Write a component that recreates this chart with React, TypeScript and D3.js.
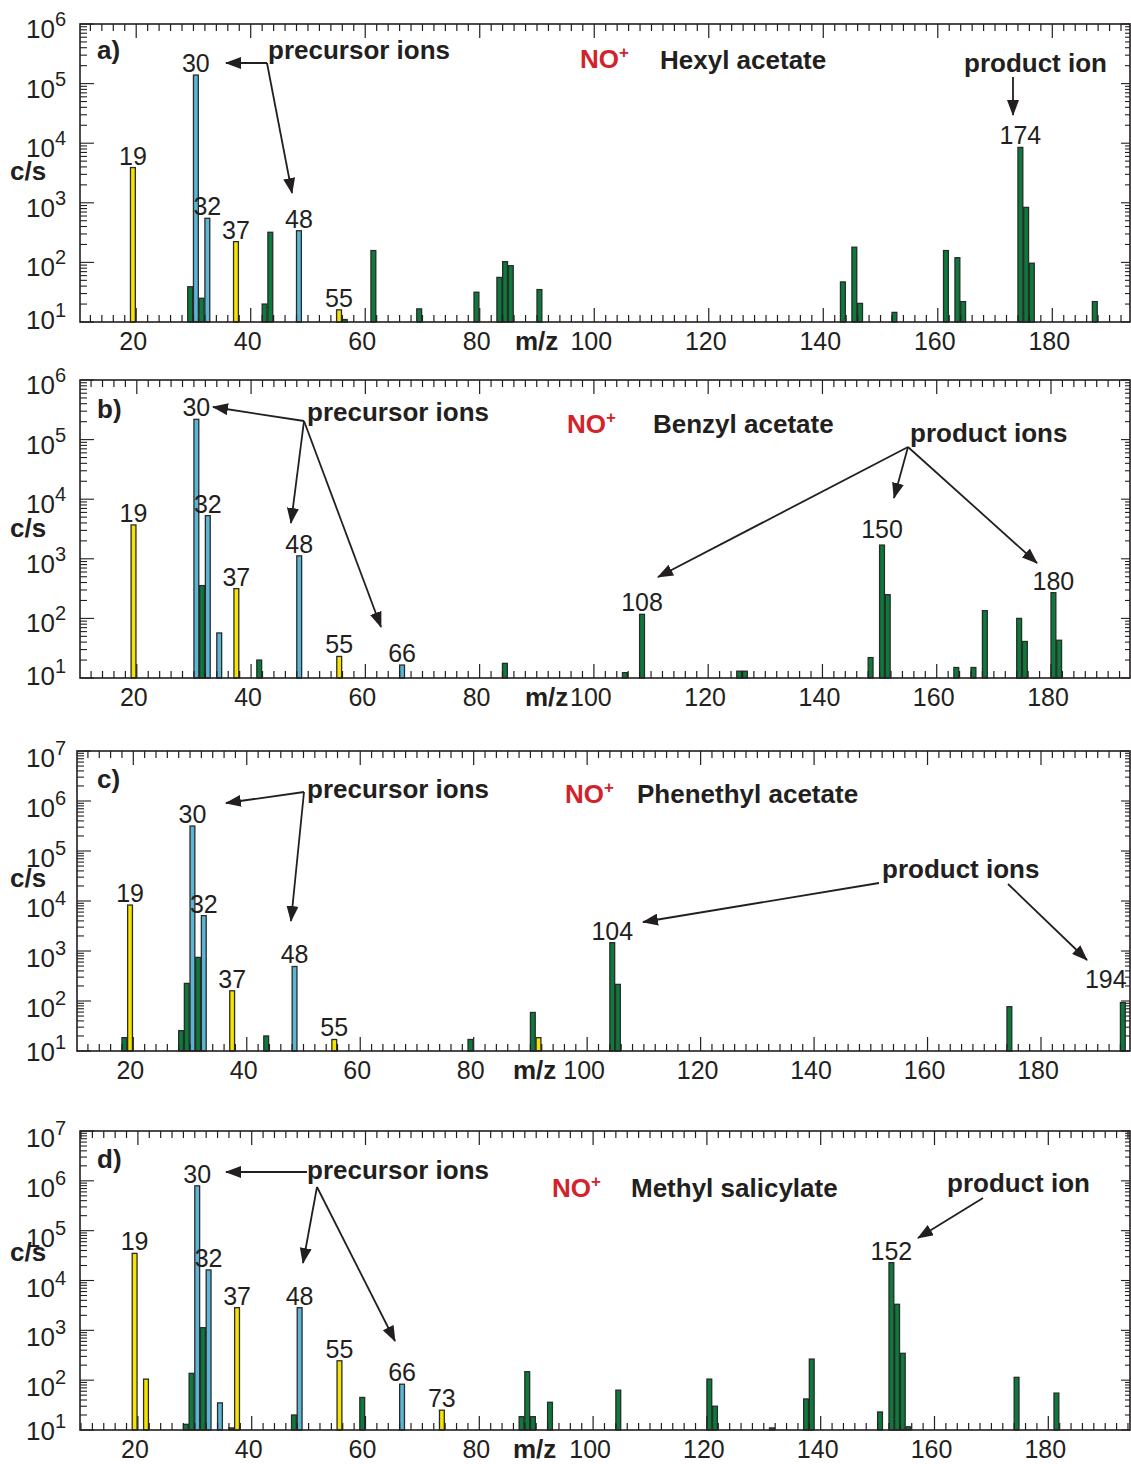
import React, { useRef, useEffect } from "react";
import { select, scaleLinear, scaleLog, range } from "d3";

const W = 1131;
const H = 1464;
const FONT = "'Liberation Sans', Arial, Helvetica, sans-serif";
const INK = "#231f20";
const RED = "#d2232a";
const YELLOW = "#f4e400";
const BLUE = "#5bb5d5";
const GREEN = "#0b7a3b";

// a) hexyl acetate  [m/z, c/s]
const hexylH3O = [[19, 3900], [37, 223], [55, 16]];
const hexylNO = [[30, 139000], [32, 550], [48, 340]];
const hexylProducts = [
  [29, 39], [31, 25], [42, 20], [43, 320], [56, 11], [61, 158], [69, 16.6], [79, 31.6],
  [83, 56], [84, 103], [85, 88], [90, 35], [143, 47], [145, 180], [146, 20.5], [152, 14.5],
  [161, 158], [163, 120], [164, 22], [174, 8500], [175, 838], [176, 97], [187, 22],
];
const hexylLabels = [19, 30, 32, 37, 48, 55, 174];

// b) benzyl acetate
const benzylH3O = [[19, 3700], [37, 316], [55, 23]];
const benzylNO = [[30, 219000], [32, 5300], [34, 57], [48, 1120], [66, 16.5]];
const benzylProducts = [
  [31, 355], [41, 20], [84, 17.6], [105, 12.3], [108, 117], [125, 13], [126, 13], [148, 22],
  [150, 1700], [151, 250], [163, 15], [166, 15], [168, 135], [174, 100], [175, 41],
  [180, 270], [181, 43],
];
const benzylLabels = [19, 30, 32, 37, 48, 55, 66, 108, 150, 180];

// c) phenethyl acetate
const phenethylH3O = [[19, 8300], [37, 160], [55, 17], [91, 18.5]];
const phenethylNO = [[30, 316000], [32, 5100], [48, 490]];
const phenethylProducts = [
  [18, 18.5], [28, 25.5], [29, 225], [31, 745], [43, 20], [79, 17], [90, 59],
  [104, 1470], [105, 215], [174, 77], [194, 93],
];
const phenethylLabels = [19, 30, 32, 37, 48, 55, 104, 194];

// d) methyl salicylate
const salicylateH3O = [[19, 35000], [21, 105], [37, 2850], [55, 245], [73, 25]];
const salicylateNO = [[30, 794000], [32, 16300], [34, 35], [48, 2850], [66, 83]];
const salicylateProducts = [
  [28, 13], [29, 137], [31, 1130], [36, 11], [47, 20], [59, 45], [87, 18.5], [88, 148],
  [89, 18.5], [92, 36], [104, 63], [120, 105], [121, 30], [131, 11], [137, 42], [138, 265],
  [150, 23], [152, 22800], [153, 3330], [154, 346], [155, 11.6], [174, 114], [181, 55],
];
const salicylateLabels = [19, 30, 32, 37, 48, 55, 66, 73, 152];

const panels = [
  {
    top: 24, bottom: 322, left: 80, right: 1130, x20: 136.2, x180: 1052.3, maxExp: 6,
    series: [[hexylProducts, GREEN], [hexylH3O, YELLOW], [hexylNO, BLUE]],
    labels: hexylLabels, nudge: {},
    tag: ["a)", 97, 59], precursor: [268, 59], no: [580, 68], compound: ["Hexyl acetate", 660, 69],
    product: ["product ion", 964, 72], cps: 180, mz: 515,
    arrows: [[[267, 63], [226, 63]], [[267, 63], [292, 193]], [[1013, 77], [1013, 115]]],
  },
  {
    top: 380, bottom: 678, left: 80, right: 1130, x20: 136.8, x180: 1051, maxExp: 6,
    series: [[benzylProducts, GREEN], [benzylH3O, YELLOW], [benzylNO, BLUE]],
    labels: benzylLabels, nudge: { 150: [0, -4] },
    tag: ["b)", 97, 418], precursor: [307, 421], no: [567, 433], compound: ["Benzyl acetate", 653, 433],
    product: ["product ions", 910, 442], cps: 537, mz: 525,
    arrows: [
      [[304, 421], [213, 407]], [[304, 421], [291, 523]], [[304, 421], [381, 627]],
      [[908, 447], [658, 577]], [[908, 447], [894, 498]], [[908, 447], [1037, 563]],
    ],
  },
  {
    top: 751, bottom: 1051, left: 77, right: 1130, x20: 133.3, x180: 1041, maxExp: 7,
    series: [[phenethylProducts, GREEN], [phenethylH3O, YELLOW], [phenethylNO, BLUE]],
    labels: phenethylLabels, nudge: { 194: [-17, -12] },
    tag: ["c)", 97, 788], precursor: [307, 798], no: [565, 803], compound: ["Phenethyl acetate", 637, 803],
    product: ["product ions", 882, 878], cps: 887, mz: 513,
    arrows: [
      [[304, 792], [226, 803]], [[304, 792], [291, 921]],
      [[879, 883], [643, 922]], [[1008, 884], [1087, 960]],
    ],
  },
  {
    top: 1131, bottom: 1430, left: 80, right: 1130, x20: 137.9, x180: 1048.3, maxExp: 7,
    series: [[salicylateProducts, GREEN], [salicylateH3O, YELLOW], [salicylateNO, BLUE]],
    labels: salicylateLabels, nudge: {},
    tag: ["d)", 97, 1168], precursor: [307, 1179], no: [552, 1197], compound: ["Methyl salicylate", 631, 1197],
    product: ["product ion", 947, 1192], cps: 1261, mz: 513,
    arrows: [
      [[307, 1172], [226, 1172]], [[317, 1187], [303, 1263]], [[317, 1187], [395, 1341]],
      [[983, 1198], [918, 1238]],
    ],
  },
];

function drawPanel(svg, p) {
  const g = svg.append("g");
  const x = scaleLinear().domain([20, 180]).range([p.x20, p.x180]);
  const lo = x.invert(p.left);
  const hi = x.invert(p.right);
  const y = scaleLog().domain([10, Math.pow(10, p.maxExp)]).range([p.bottom, p.top]);
  const barW = (x(1) - x(0)) * 0.85;

  // bars
  p.series.forEach(([data, fill]) => {
    g.append("g")
      .selectAll("rect")
      .data(data)
      .join("rect")
      .attr("x", d => x(d[0]))
      .attr("y", d => y(d[1]))
      .attr("width", barW)
      .attr("height", d => p.bottom - y(d[1]))
      .attr("fill", fill)
      .attr("stroke", "#2b2b2b")
      .attr("stroke-width", 1.3);
  });

  // frame
  g.append("rect")
    .attr("x", p.left).attr("y", p.top)
    .attr("width", p.right - p.left).attr("height", p.bottom - p.top)
    .attr("fill", "none").attr("stroke", INK).attr("stroke-width", 1.6);

  // x ticks, top and bottom, pointing in
  const xt = range(Math.ceil(lo / 2) * 2, hi, 2);
  const xlen = t => (t % 20 === 0 ? 14 : 7);
  g.append("g").selectAll("line").data(xt).join("line")
    .attr("x1", d => x(d)).attr("x2", d => x(d))
    .attr("y1", p.bottom).attr("y2", d => p.bottom - xlen(d))
    .attr("stroke", INK).attr("stroke-width", 1.2);
  g.append("g").selectAll("line").data(xt).join("line")
    .attr("x1", d => x(d)).attr("x2", d => x(d))
    .attr("y1", p.top).attr("y2", d => p.top + xlen(d))
    .attr("stroke", INK).attr("stroke-width", 1.2);

  g.append("g").selectAll("text").data(xt.filter(t => t % 20 === 0)).join("text")
    .attr("x", d => x(d) - 3).attr("y", p.bottom + 28)
    .attr("text-anchor", "middle").attr("font-size", 25).attr("fill", INK)
    .text(d => d);
  g.append("text").attr("x", p.mz).attr("y", p.bottom + 28)
    .attr("font-size", 26).attr("font-weight", "bold").attr("fill", INK).text("m/z");

  // y ticks (log)
  const exps = range(1, p.maxExp + 1);
  const minors = [];
  range(1, p.maxExp).forEach(e => range(2, 10).forEach(k => minors.push(k * Math.pow(10, e))));
  const yticks = [...exps.map(e => ({ v: Math.pow(10, e), major: true })), ...minors.map(v => ({ v, major: false }))];
  g.append("g").selectAll("line").data(yticks).join("line")
    .attr("x1", p.left).attr("x2", d => p.left + (d.major ? 14 : 7))
    .attr("y1", d => y(d.v)).attr("y2", d => y(d.v))
    .attr("stroke", INK).attr("stroke-width", 1.1);
  g.append("g").selectAll("line").data(yticks).join("line")
    .attr("x1", p.right).attr("x2", d => p.right - (d.major ? 9 : 5))
    .attr("y1", d => y(d.v)).attr("y2", d => y(d.v))
    .attr("stroke", INK).attr("stroke-width", 1.1);

  const base10 = e => y(Math.pow(10, e)) + (e === 1 ? (p.maxExp > 6 ? 10 : 7) : (p.maxExp > 6 ? 16 : 14));
  g.append("g").selectAll("text").data(exps).join("text")
    .attr("x", 55).attr("y", base10).attr("text-anchor", "end")
    .attr("font-size", 26).attr("fill", INK).text("10");
  g.append("g").selectAll("text").data(exps).join("text")
    .attr("x", 55).attr("y", e => base10(e) - 12)
    .attr("font-size", 20).attr("fill", INK).text(e => e);

  g.append("text").attr("x", 10).attr("y", p.cps)
    .attr("font-size", 26).attr("font-weight", "bold").attr("fill", INK).text("c/s");

  // peak labels
  const all = p.series.flatMap(s => s[0]);
  g.append("g").selectAll("text").data(p.labels).join("text")
    .attr("x", m => x(m) + barW / 2 + ((p.nudge[m] || [0, 0])[0]))
    .attr("y", m => y(all.find(d => d[0] === m)[1]) - 3 + ((p.nudge[m] || [0, 0])[1]))
    .attr("text-anchor", "middle").attr("font-size", 25).attr("fill", INK)
    .text(m => m);

  // annotations
  const bold = (txt, tx, ty, fill = INK) =>
    g.append("text").attr("x", tx).attr("y", ty).attr("font-size", 26)
      .attr("font-weight", "bold").attr("fill", fill).text(txt);
  bold(p.tag[0], p.tag[1], p.tag[2]);
  bold("precursor ions", p.precursor[0], p.precursor[1]);
  bold(p.compound[0], p.compound[1], p.compound[2]);
  bold(p.product[0], p.product[1], p.product[2]);
  const no = bold("NO", p.no[0], p.no[1], RED);
  no.append("tspan").attr("font-size", 17).attr("dy", -10).text("+");

  g.append("g").selectAll("line").data(p.arrows).join("line")
    .attr("x1", d => d[0][0]).attr("y1", d => d[0][1])
    .attr("x2", d => d[1][0]).attr("y2", d => d[1][1])
    .attr("stroke", INK).attr("stroke-width", 1.8)
    .attr("marker-end", "url(#head)");
}

function App() {
  const svgRef = useRef(null);

  useEffect(() => {
    const svg = select(svgRef.current);
    svg.selectAll("*").remove();
    svg.append("defs").append("marker")
      .attr("id", "head").attr("viewBox", "0 0 16 12")
      .attr("refX", 15).attr("refY", 6)
      .attr("markerWidth", 16).attr("markerHeight", 12)
      .attr("markerUnits", "userSpaceOnUse").attr("orient", "auto")
      .append("path").attr("d", "M0,0L16,6L0,12Z").attr("fill", INK);
    svg.attr("font-family", FONT);
    panels.forEach(p => drawPanel(svg, p));
  }, []);

  return (
    <svg ref={svgRef} width={W} height={H}
      style={{ position: "absolute", left: 0, top: 0, background: "#fff" }} />
  );
}

export default App;
